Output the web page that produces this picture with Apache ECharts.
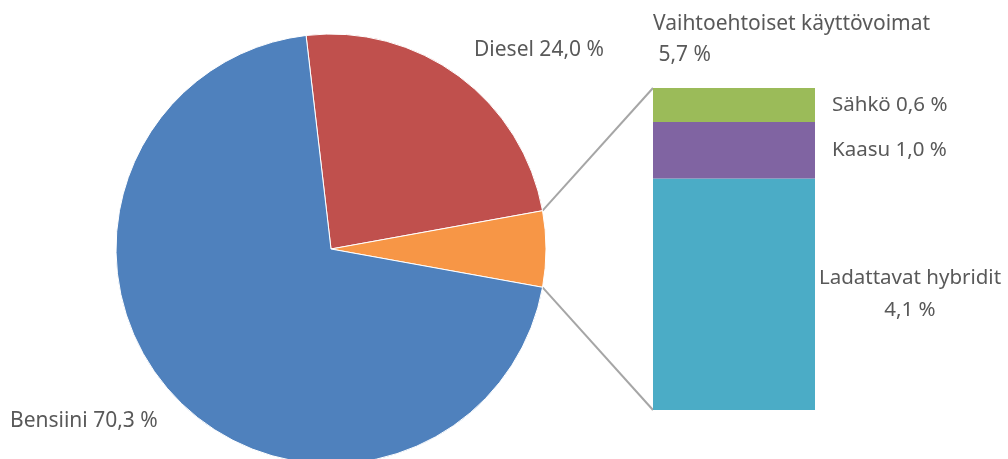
<!DOCTYPE html>
<html>
<head>
<meta charset="utf-8">
<script src="https://cdn.jsdelivr.net/npm/echarts@6/dist/echarts.min.js"></script>
<style>
  html, body { margin: 0; padding: 0; background: #fff; }
  #main { width: 1008px; height: 459px; }
</style>
</head>
<body>
<div id="main"></div>
<script>
// pääjaottelu (piirakka)
var pieNames = ['Diesel', 'Vaihtoehtoiset käyttövoimat', 'Bensiini'];
var pieValues = [24.0, 5.7, 70.3];
var pieColors = ['#C0504D', '#F79646', '#4F81BD'];

// vaihtoehtoiset käyttövoimat eriteltynä (pylväs), alhaalta ylös
var barNames = ['Ladattavat hybridit', 'Kaasu', 'Sähkö'];
var barValues = [4.1, 1.0, 0.6];
var barColors = ['#4BACC6', '#8064A2', '#9BBB59'];

var textColor = '#595959';
var fontFamily = '"Noto Sans", sans-serif';

function fmt(v) {
  return v.toFixed(1).replace('.', ',') + ' %';
}

var barTotal = 0;
barValues.forEach(function (v) { barTotal += v; });

// "muut" -sektori keskitetään klo 3 suuntaan
var startAngle = pieValues[0] * 3.6 + pieValues[1] * 3.6 / 2;

// label positions for pie slices
var pieLabelPos = [
  { x: 474, y: 50 },
  { x: 653, y: 40 },
  { x: 10, y: 421 }
];

var myChart = echarts.init(document.getElementById('main'));

var barSeries = barNames.map(function (name, i) {
  var last = i === 0;
  return {
    name: name,
    type: 'bar',
    stack: 'muut',
    xAxisIndex: 0,
    yAxisIndex: 0,
    barWidth: '100%',
    data: [barValues[i]],
    itemStyle: { color: barColors[i] },
    label: {
      show: true,
      position: 'right',
      distance: last ? 95 : 17,
      align: last ? 'center' : 'left',
      color: textColor,
      fontSize: 20.5,
      fontFamily: fontFamily,
      lineHeight: 32,
      formatter: last ? name + '\n' + fmt(barValues[i]) : name + ' ' + fmt(barValues[i])
    }
  };
});

var option = {
  animation: false,
  grid: {
    left: 653,
    top: 88,
    width: 162,
    height: 322
  },
  xAxis: {
    type: 'category',
    data: ['muut'],
    show: false
  },
  yAxis: {
    type: 'value',
    min: 0,
    max: barTotal,
    show: false
  },
  series: [
    {
      type: 'pie',
      center: [331, 249],
      radius: 215,
      startAngle: startAngle,
      clockwise: true,
      data: pieNames.map(function (n, i) {
        return { name: n, value: pieValues[i], itemStyle: { color: pieColors[i] } };
      }),
      itemStyle: { borderColor: '#fff', borderWidth: 1 },
      labelLine: { show: false },
      label: {
        show: true,
        position: 'inside',
        overflow: 'none',
        align: 'left',
        color: textColor,
        fontSize: 21,
        fontFamily: fontFamily,
        lineHeight: 31,
        formatter: function (p) {
          if (p.dataIndex === 1) return p.name + '\n ' + fmt(p.value);
          return p.name + ' ' + fmt(p.value);
        }
      },
      labelLayout: function (params) {
        var pos = pieLabelPos[params.dataIndex];
        return { x: pos.x, y: pos.y, align: 'left', verticalAlign: 'middle' };
      }
    }
  ].concat(barSeries)
};

myChart.setOption(option);

// yhdysviivat piirakasta pylvääseen
var model = myChart.getModel();
var pieLayout = model.getSeriesByIndex(0).getData().getItemLayout(1);
var topLayout = model.getSeriesByIndex(barSeries.length).getData().getItemLayout(0);
var bottomLayout = model.getSeriesByIndex(1).getData().getItemLayout(0);

var p1 = [pieLayout.cx + pieLayout.r * Math.cos(pieLayout.startAngle),
          pieLayout.cy + pieLayout.r * Math.sin(pieLayout.startAngle)];
var p2 = [pieLayout.cx + pieLayout.r * Math.cos(pieLayout.endAngle),
          pieLayout.cy + pieLayout.r * Math.sin(pieLayout.endAngle)];
var barLeft = Math.min(topLayout.x, topLayout.x + topLayout.width);
var barTop = Math.min(topLayout.y, topLayout.y + topLayout.height);
var barBottom = Math.max(bottomLayout.y, bottomLayout.y + bottomLayout.height);

myChart.setOption({
  graphic: [
    {
      type: 'line',
      shape: { x1: p1[0], y1: p1[1], x2: barLeft, y2: barTop },
      style: { stroke: '#A6A6A6', lineWidth: 2 }
    },
    {
      type: 'line',
      shape: { x1: p2[0], y1: p2[1], x2: barLeft, y2: barBottom },
      style: { stroke: '#A6A6A6', lineWidth: 2 }
    }
  ]
});
</script>
</body>
</html>
